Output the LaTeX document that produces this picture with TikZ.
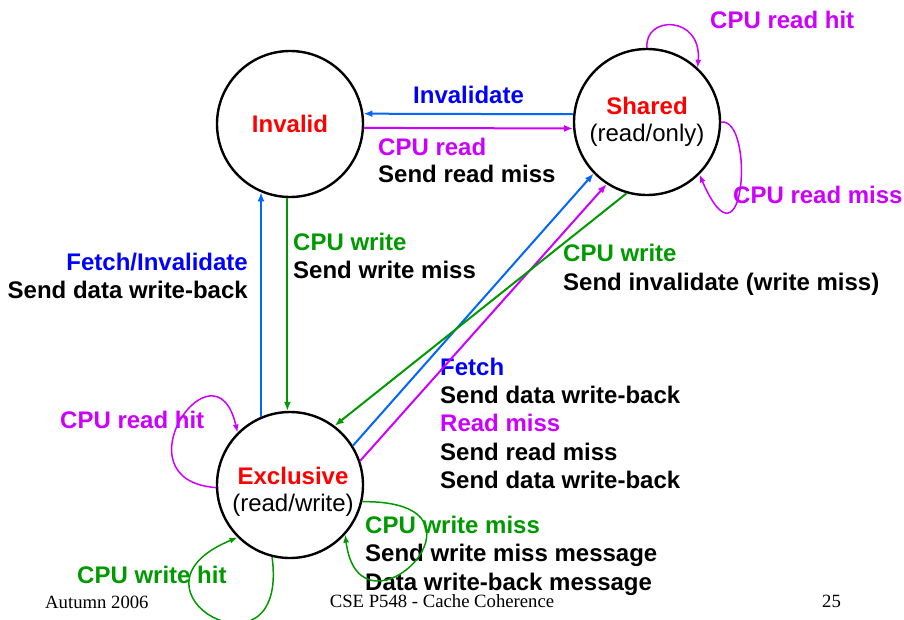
\documentclass[tikz,border=0pt]{standalone}
\usepackage{fontspec}
\setmainfont{Liberation Sans}
\newfontfamily\footfont{Liberation Serif}
\usetikzlibrary{arrows.meta}
\definecolor{myred}{RGB}{255,0,0}
\definecolor{myblue}{RGB}{0,0,255}
\definecolor{mylineblue}{RGB}{0,102,255}
\definecolor{mygreen}{RGB}{0,153,0}
\definecolor{mymagenta}{RGB}{204,0,255}

\begin{document}
\begin{tikzpicture}[
		x=1pt, y=-1pt,
		state/.style={circle, draw, line width=2.4pt, minimum size=146pt, inner sep=0pt, align=center, font=\fontsize{24}{26.5}\selectfont},
		statetext/.style={inner sep=0pt, align=center, font=\fontsize{24}{26.5}\selectfont},
		lbl/.style={inner sep=0pt, anchor=base west, font=\fontsize{24}{28}\selectfont\bfseries},
		lblr/.style={lbl, anchor=base east},
		foot/.style={inner sep=0pt, anchor=base, font=\fontsize{18.7}{22}\footfont},
		arrow/.style={line width=2pt, -{Latex[length=9pt,width=7pt]}},
		selfloop/.style={line width=1.5pt, -{Latex[length=8pt,width=6pt]}}
		]
		\useasboundingbox (0,0) rectangle (904,619);
		\clip (0,0) rectangle (904,619);
		
		% States
		\node[state] (invalid) at (290,124) {\textcolor{myred}{\bfseries Invalid}};
		\node[state] (shared) at (647,122) {\textcolor{myred}{\bfseries Shared}\\(read/only)};
		\node[state, label={[statetext, xshift=3pt, yshift=-7pt]center:{\textcolor{myred}{\bfseries Exclusive}\\(read/write)}}] (exclusive) at (290,485) {};
		
		% Labels
		\node[lbl, text=myblue] (lblinval) at (413,103.3) {Invalidate};
		\node[lbl, text=mymagenta] (lblcpuread) at (378,155) {CPU read};
		\node[lbl] (lblsendreadmiss) at (378,182) {Send read miss};
		\node[lblr, text=myblue] (lblfetchinv) at (248,270) {Fetch/Invalidate};
		\node[lblr] (lblsenddata) at (248,298.3) {Send data write-back};
		\node[lbl, text=mygreen] (lblcpuwrite) at (293,250) {CPU write};
		\node[lbl] (lblsendwritemiss) at (293,278.3) {Send write miss};
		\node[lbl, text=mygreen] (lblcpuwritesh) at (563,261.7) {CPU write};
		\node[lbl] (lblsendinval) at (563,290) {Send invalidate (write miss)};
		\node[lbl, text=myblue] (lblfetch) at (440,375) {Fetch};
		\node[lbl] (lblfetchdata) at (440,403.3) {Send data write-back};
		\node[lbl, text=mymagenta] (lblreadmiss) at (440,431.7) {Read miss};
		\node[lbl] (lblrmsend) at (440,460) {Send read miss};
		\node[lbl] (lblrmdata) at (440,488.3) {Send data write-back};
		\node[lbl, text=mygreen] (lblwritemiss) at (365,533.3) {CPU write miss};
		\node[lbl] (lblwmsend) at (365,561.7) {Send write miss message};
		\node[lbl] (lblwmdata) at (365,590) {Data write-back message};
		\node[lbl, text=mymagenta] (lblreadhitex) at (60,428) {CPU read hit};
		\node[lbl, text=mygreen] (lblwritehit) at (77,583) {CPU write hit};
		\node[lbl, text=mymagenta] (lblreadhitsh) at (710,28.3) {CPU read hit};
		\node[lbl, text=mymagenta] (lblreadmisssh) at (733,203.3) {CPU read miss};
		
		% Footer
		\node[foot, anchor=base west] (footdate) at (45,608) {Autumn 2006};
		\node[foot] (foottitle) at (442,607) {CSE P548 - Cache Coherence};
		\node[foot, anchor=base west] (footpage) at (822,607) {25};
		
		% Arrows
		\draw[arrow, mylineblue] (shared.174) -- (invalid.8.5);
		\draw[arrow, mymagenta] (invalid.-3) -- (shared.185.5);
		\draw[arrow, mylineblue] (exclusive.113) -- (invalid.247);
		\draw[arrow, mygreen] (invalid.268) -- (exclusive.92);
		\draw[arrow, mylineblue] (exclusive.32) -- (shared.224);
		\draw[arrow, mymagenta] (exclusive.19) -- (shared.237);
		\draw[arrow, mygreen] (shared.254) -- (exclusive.53);
		
		% Self loops
		\draw[selfloop, mymagenta] (shared.90) .. controls (644,15) and (702,15) .. (shared.47);
		\draw[selfloop, mymagenta] (shared.0) .. controls (755,118) and (745,280) .. (shared.-45);
		\draw[selfloop, mymagenta] (exclusive.182) .. controls (115,480) and (215,335) .. (exclusive.135);
		\draw[selfloop, mygreen] (exclusive.256) .. controls (290,690) and (110,590) .. (exclusive.225);
		\draw[selfloop, mygreen] (exclusive.-13) .. controls (510,500) and (360,650) .. (exclusive.-42);
		
	\end{tikzpicture}
\end{document}
